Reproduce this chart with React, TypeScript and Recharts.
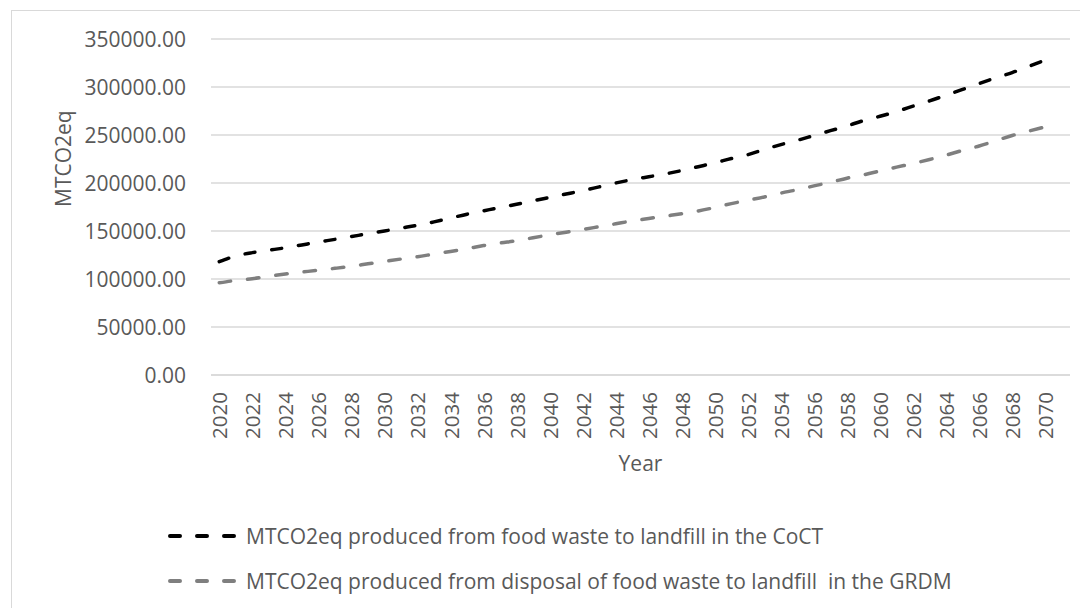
import { LineChart, Line, CartesianGrid, XAxis, YAxis, Legend } from 'recharts';

const years = [
  2020, 2021, 2022, 2023, 2024, 2025, 2026, 2027, 2028, 2029,
  2030, 2031, 2032, 2033, 2034, 2035, 2036, 2037, 2038, 2039,
  2040, 2041, 2042, 2043, 2044, 2045, 2046, 2047, 2048, 2049,
  2050, 2051, 2052, 2053, 2054, 2055, 2056, 2057, 2058, 2059,
  2060, 2061, 2062, 2063, 2064, 2065, 2066, 2067, 2068, 2069, 2070,
];

// CoCT
const coct = [
  118000, 124000, 127500, 130000, 132500, 135500, 138500, 141300, 144200, 147200,
  150000, 153000, 155900, 159500, 163500, 167500, 171000, 174500, 177800, 181500,
  185000, 188500, 192000, 196000, 200000, 203500, 206500, 209500, 213000, 217000,
  221000, 225500, 229500, 235000, 240000, 244500, 249500, 254500, 259500, 265000,
  269500, 274500, 280000, 285500, 291500, 297500, 303500, 309500, 315000, 321500, 328000,
];

// GRDM
const grdm = [
  96000, 98500, 100300, 102800, 105200, 107200, 109200, 111100, 113200, 115800,
  118300, 120800, 123200, 126000, 128700, 131600, 134800, 137500, 139800, 143000,
  146000, 148800, 151500, 154500, 157500, 160500, 163000, 165500, 168000, 170800,
  174500, 178500, 182000, 185500, 189500, 193000, 197000, 200800, 205000, 208500,
  212500, 216500, 220300, 224500, 229000, 234000, 238500, 244000, 249500, 254000, 258600,
];

const yTicks = [0, 50000, 100000, 150000, 200000, 250000, 300000, 350000];

const seriesNames = [
  'MTCO2eq produced from food waste to landfill in the CoCT',
  'MTCO2eq produced from disposal of food waste to landfill  in the GRDM',
];

const data = years.map((year, i) => ({ year, coct: coct[i], grdm: grdm[i] }));

const FONT = "'Open Sans', sans-serif";
const TEXT = '#595959';
const FS = 21;

const YTick = ({ x, y, payload }: any) => (
  <text x={x - 23} y={y} textAnchor="end" dominantBaseline="central" fill={TEXT} fontSize={FS} fontFamily={FONT}>
    {Number(payload.value).toFixed(2)}
  </text>
);

const XTick = ({ x, y, payload }: any) => (
  <text
    x={x}
    y={y + 15}
    transform={`rotate(-90, ${x}, ${y + 15})`}
    textAnchor="end"
    dominantBaseline="central"
    fill={TEXT}
    fontSize={20.5}
    fontFamily={FONT}
  >
    {payload.value}
  </text>
);

const renderLegend = ({ payload }: any) => {
  // keep the series order, not alphabetical
  const items = [...(payload || [])].sort(
    (a: any, b: any) => seriesNames.indexOf(a.value) - seriesNames.indexOf(b.value)
  );
  return (
    <div>
      {items.map((entry: any) => (
        <div key={entry.value} style={{ display: 'flex', alignItems: 'center', height: 45 }}>
          <svg width={78} height={10} style={{ marginLeft: 160 }}>
            <line
              x1={2}
              y1={5}
              x2={68}
              y2={5}
              stroke={entry.color}
              strokeWidth={4}
              strokeDasharray="10 17"
              strokeLinecap="round"
            />
          </svg>
          <span style={{ color: TEXT, fontSize: FS, fontFamily: FONT, whiteSpace: 'pre' }}>{entry.value}</span>
        </div>
      ))}
    </div>
  );
};

export default function App() {
  return (
    <div style={{ position: 'relative', width: 1080, height: 600 }}>
      <div
        style={{
          position: 'absolute',
          left: 3,
          top: 2,
          width: 1200,
          height: 800,
          border: '1px solid #d9d9d9',
        }}
      />
      <LineChart width={1080} height={600} data={data} margin={{ top: 31, right: 18, bottom: 173, left: 0 }}>
        <CartesianGrid vertical={false} stroke="#d9d9d9" strokeWidth={1.3} />
        <XAxis
          dataKey="year"
          interval={1}
          tickLine={false}
          tickSize={0}
          axisLine={{ stroke: '#d9d9d9', strokeWidth: 1.3 }}
          height={60}
          padding={{ left: 8.26, right: 24.8 }}
          tick={<XTick />}
          label={{ value: 'Year', position: 'bottom', offset: 21, fill: TEXT, fontSize: FS, fontFamily: FONT }}
        />
        <YAxis
          width={203}
          domain={[0, 350000]}
          ticks={yTicks}
          axisLine={false}
          tickLine={false}
          tickSize={0}
          tick={<YTick />}
          label={{ value: 'MTCO2eq', angle: -90, position: 'insideLeft', offset: 56, fill: TEXT, fontSize: FS, fontFamily: FONT }}
        />
        <Legend
          layout="vertical"
          align="center"
          verticalAlign="middle"
          content={renderLegend}
          wrapperStyle={{ left: 0, top: 505, width: 1000 }}
        />
        <Line
          type="monotone"
          dataKey="coct"
          name={seriesNames[0]}
          stroke="#000000"
          strokeWidth={3.5}
          strokeDasharray="10 17"
          strokeLinecap="round"
          dot={false}
          isAnimationActive={false}
        />
        <Line
          type="monotone"
          dataKey="grdm"
          name={seriesNames[1]}
          stroke="#7f7f7f"
          strokeWidth={3.5}
          strokeDasharray="11.5 17"
          strokeLinecap="round"
          dot={false}
          isAnimationActive={false}
        />
      </LineChart>
    </div>
  );
}
